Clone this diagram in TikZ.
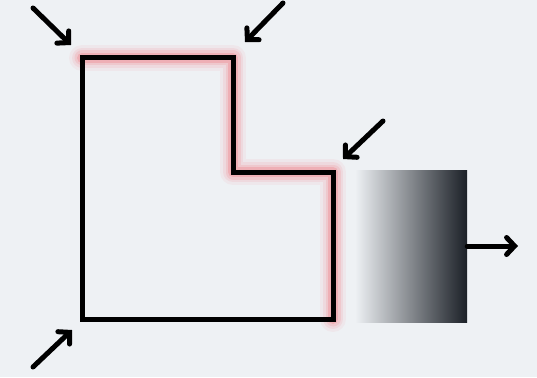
\documentclass[tikz,border=0pt]{standalone}
\usetikzlibrary{arrows.meta}
\definecolor{bgcol}{HTML}{EEF1F4}
\definecolor{glowred}{HTML}{F07078}
\definecolor{bardark}{HTML}{1B2027}
\tikzset{
  pointer/.style={line width=5pt, line cap=round, -{Straight Barb[length=8pt,width=17pt,line cap=round]}},
  outline/.style={line width=5pt, line join=miter},
  glow/.style={draw=glowred, line cap=round, line join=round},
}
\begin{document}
\begin{tikzpicture}[x=1pt,y=-1pt]
        % Background
        \fill[bgcol] (0,0) rectangle (537,377);
        \useasboundingbox (0,0) rectangle (537,377);
        % Corners
        \coordinate (tl) at (82,58);
        \coordinate (tr) at (233,58);
        \coordinate (sa) at (233,172);
        \coordinate (sb) at (333,172);
        \coordinate (br) at (333,319);
        \coordinate (bl) at (82,319);
        % Glow
        \foreach \w/\o in {26/0.07, 20/0.11, 15/0.16, 10/0.28}
          \draw[glow, line width=\w pt, opacity=\o] (tl) -- (tr) -- (sa) -- (sb) -- (br);
        % Outline
        \draw[outline] (tl) -- (tr) -- (sa) -- (sb) -- (br) -- (bl) -- cycle;
        % Bar
        \node[left color=bgcol, right color=bardark, minimum width=112pt, minimum height=152pt, inner sep=0pt]
          (bar) at (411,246) {};
        \coordinate (out) at (518,246);
        \draw[pointer] (bar.east) -- (out);
        % Pointers
        \coordinate (p1) at (33,8);   \coordinate (t1) at (71,45);
        \coordinate (p2) at (283,3);  \coordinate (t2) at (245,42);
        \coordinate (p3) at (383,121); \coordinate (t3) at (343,159);
        \coordinate (p4) at (33,367); \coordinate (t4) at (72,330);
        \foreach \i in {1,...,4}
          \draw[pointer] (p\i) -- (t\i);
      \end{tikzpicture}
\end{document}
